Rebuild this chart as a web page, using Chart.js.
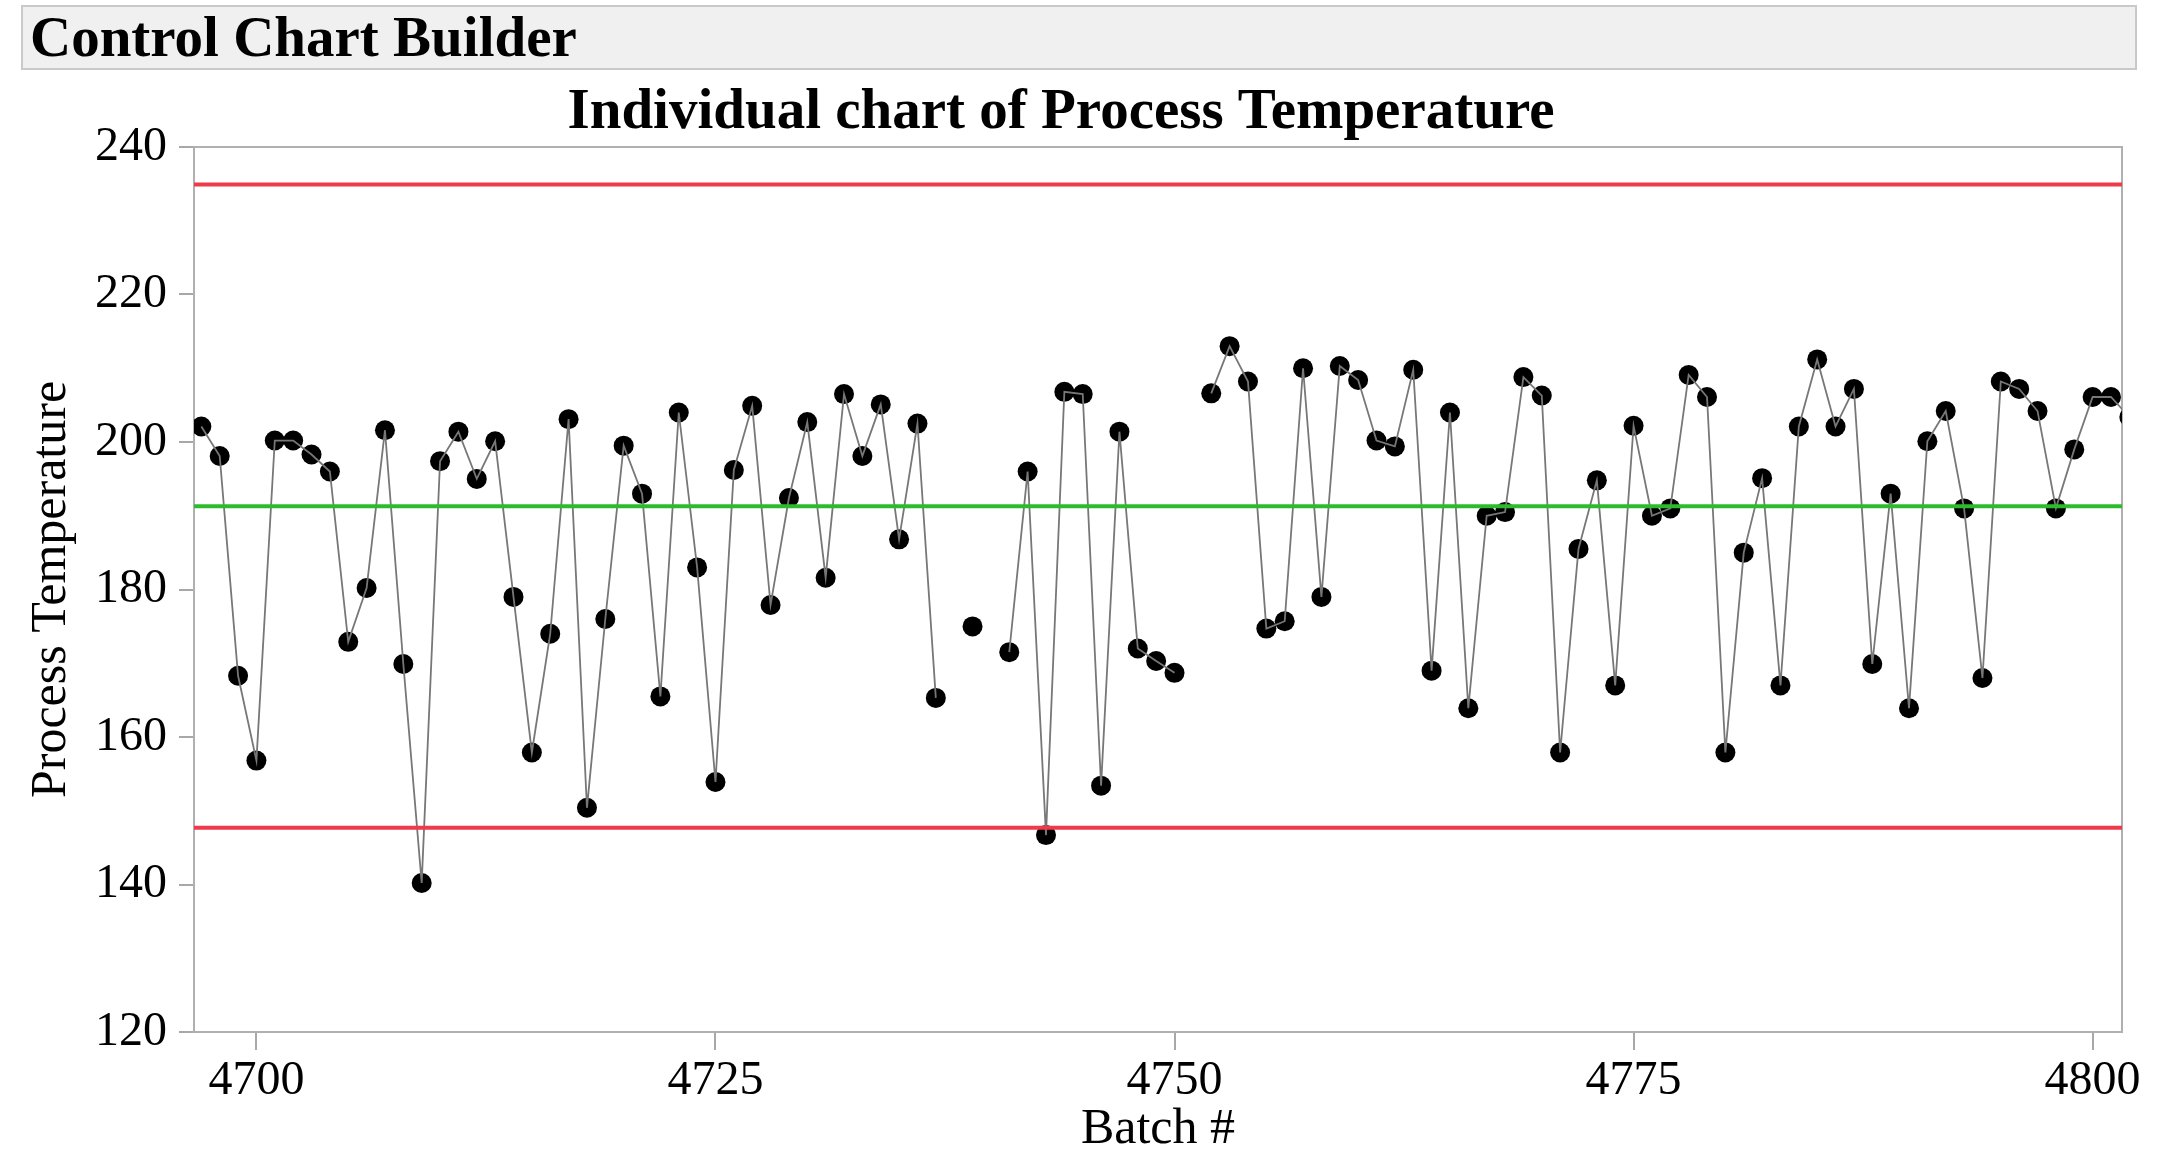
<!DOCTYPE html>
<html>
<head>
<meta charset="utf-8">
<title>Control Chart Builder</title>
<script src="https://cdn.jsdelivr.net/npm/chart.js@4.4.1/dist/chart.umd.min.js"></script>
<style>
  html, body { margin: 0; padding: 0; background: #fff; }
  body { width: 2174px; height: 1155px; position: relative; overflow: hidden; font-family: 'Liberation Serif', 'Times New Roman', serif; }
  #header { position: absolute; left: 21px; top: 5px; width: 2116px; height: 65px; box-sizing: border-box; border: 2px solid #c9c9c9; background: #f0f0f0; font-weight: bold; font-size: 57px; line-height: 60px; padding-left: 7px; color: #000; white-space: nowrap; }
  #chartCanvas { position: absolute; left: 0; top: 72px; }
</style>
</head>
<body>
<div id="header">Control Chart Builder</div>
<canvas id="chartCanvas" width="2174" height="1083"></canvas>
<script>
// Lotes (eje X)
const batches = [
    4697, 4698, 4699, 4700, 4701, 4702, 4703, 4704, 4705, 4706,
    4707, 4708, 4709, 4710, 4711, 4712, 4713, 4714, 4715, 4716,
    4717, 4718, 4719, 4720, 4721, 4722, 4723, 4724, 4725, 4726,
    4727, 4728, 4729, 4730, 4731, 4732, 4733, 4734, 4735, 4736,
    4737, 4738, 4739, 4740, 4741, 4742, 4743, 4744, 4745, 4746,
    4747, 4748, 4749, 4750, 4751, 4752, 4753, 4754, 4755, 4756,
    4757, 4758, 4759, 4760, 4761, 4762, 4763, 4764, 4765, 4766,
    4767, 4768, 4769, 4770, 4771, 4772, 4773, 4774, 4775, 4776,
    4777, 4778, 4779, 4780, 4781, 4782, 4783, 4784, 4785, 4786,
    4787, 4788, 4789, 4790, 4791, 4792, 4793, 4794, 4795, 4796,
    4797, 4798, 4799, 4800, 4801, 4802
];

// Temperatura de proceso por lote (null = lote sin dato)
const temperatures = [
    202.1, 198.1, 168.3, 156.8, 200.2, 200.2, 198.3, 196.0, 172.9, 180.2,
    201.6, 169.9, 140.2, 197.4, 201.4, 195.0, 200.1, 179.0, 157.9, 174.0,
    203.1, 150.4, 176.0, 199.5, 193.0, 165.5, 204.0, 183.0, 153.9, 196.2,
    204.9, 177.9, 192.4, 202.7, 181.6, 206.5, 198.1, 205.1, 186.8, 202.5,
    165.3, null, 175.0, null, 171.5, 196.0, 146.7, 206.8, 206.5, 153.4,
    201.4, 172.0, 170.3, 168.7, null, 206.6, 213.0, 208.2, 174.7, 175.7,
    210.0, 179.0, 210.3, 208.4, 200.2, 199.4, 209.8, 169.0, 204.0, 163.9,
    190.0, 190.5, 208.8, 206.3, 157.9, 185.5, 194.8, 167.0, 202.2, 190.0,
    191.0, 209.1, 206.1, 157.9, 185.0, 195.1, 167.0, 202.1, 211.2, 202.1,
    207.2, 169.9, 193.0, 163.9, 200.1, 204.2, 191.0, 168.0, 208.2, 207.2,
    204.2, 191.0, 199.0, 206.1, 206.1, 203.4
];

// Límites de control
const upperLimit = 234.9;
const centerLine = 191.3;
const lowerLimit = 147.7;

// Rangos y marcas de los ejes
const xRange = [4696.6, 4801.6];
const yRange = [120, 240];
const xTicks = [4700, 4725, 4750, 4775, 4800];
const yTicks = [120, 140, 160, 180, 200, 220, 240];

const points = batches.map((b, i) => ({ x: b, y: temperatures[i] }));

function limitLine(value) {
    return [{ x: xRange[0], y: value }, { x: xRange[1], y: value }];
}

// Marco gris alrededor del área del gráfico
const plotFrame = {
    id: 'plotFrame',
    beforeDatasetsDraw(chart) {
        const { ctx, chartArea: a } = chart;
        ctx.save();
        ctx.strokeStyle = '#b0b0b0';
        ctx.lineWidth = 2;
        ctx.strokeRect(a.left, a.top, a.right - a.left, a.bottom - a.top);
        ctx.restore();
    }
};

Chart.defaults.font.family = "'Liberation Serif', 'Times New Roman', serif";
Chart.defaults.color = '#000';

const ctx = document.getElementById('chartCanvas').getContext('2d');
const controlChart = new Chart(ctx, {
    type: 'line',
    data: {
        datasets: [
            { data: limitLine(upperLimit), borderColor: '#ef3a4c', borderWidth: 4, pointRadius: 0, clip: 0 },
            { data: limitLine(centerLine), borderColor: '#2dbb2d', borderWidth: 4, pointRadius: 0, clip: 0 },
            { data: limitLine(lowerLimit), borderColor: '#ef3a4c', borderWidth: 4, pointRadius: 0, clip: 0 },
            { data: points, borderColor: '#777777', borderWidth: 1.8, pointRadius: 0, spanGaps: false, clip: 0 },
            { data: points, showLine: false, pointRadius: 10, pointBackgroundColor: '#000', pointBorderWidth: 0, clip: 0 }
        ]
    },
    plugins: [plotFrame],
    options: {
        responsive: false,
        animation: false,
        layout: { padding: { left: 0, right: 52, top: 0, bottom: 0 } },
        elements: { line: { tension: 0 } },
        plugins: {
            legend: { display: false },
            tooltip: { enabled: false },
            title: {
                display: true,
                text: 'Individual chart of Process Temperature',
                font: { size: 57, weight: 'bold', lineHeight: 1 },
                padding: { top: 13, bottom: 5 },
                color: '#000'
            }
        },
        scales: {
            x: {
                type: 'linear',
                min: xRange[0],
                max: xRange[1],
                afterBuildTicks: (scale) => { scale.ticks = xTicks.map(v => ({ value: v })); },
                afterFit: (scale) => { scale.height = 123; },
                ticks: { font: { size: 48, lineHeight: 1.2 }, padding: 3, maxRotation: 0, callback: (v) => String(v) },
                grid: { drawOnChartArea: false, drawTicks: true, tickLength: 18, color: '#a8a8a8', lineWidth: 2 },
                border: { display: false },
                title: { display: true, text: 'Batch #', font: { size: 50, lineHeight: 1 }, padding: { top: 0, bottom: 0 } }
            },
            y: {
                min: yRange[0],
                max: yRange[1],
                afterBuildTicks: (scale) => { scale.ticks = yTicks.map(v => ({ value: v })); },
                afterFit: (scale) => { scale.width = 194; },
                ticks: { font: { size: 48, lineHeight: 1.2 }, padding: 12, callback: (v) => String(v) },
                grid: { drawOnChartArea: false, drawTicks: true, tickLength: 15, color: '#a8a8a8', lineWidth: 2 },
                border: { display: false },
                title: { display: true, text: 'Process Temperature', font: { size: 50, lineHeight: 1 }, padding: { top: 26.5, bottom: 0 } }
            }
        }
    }
});
</script>
</body>
</html>
